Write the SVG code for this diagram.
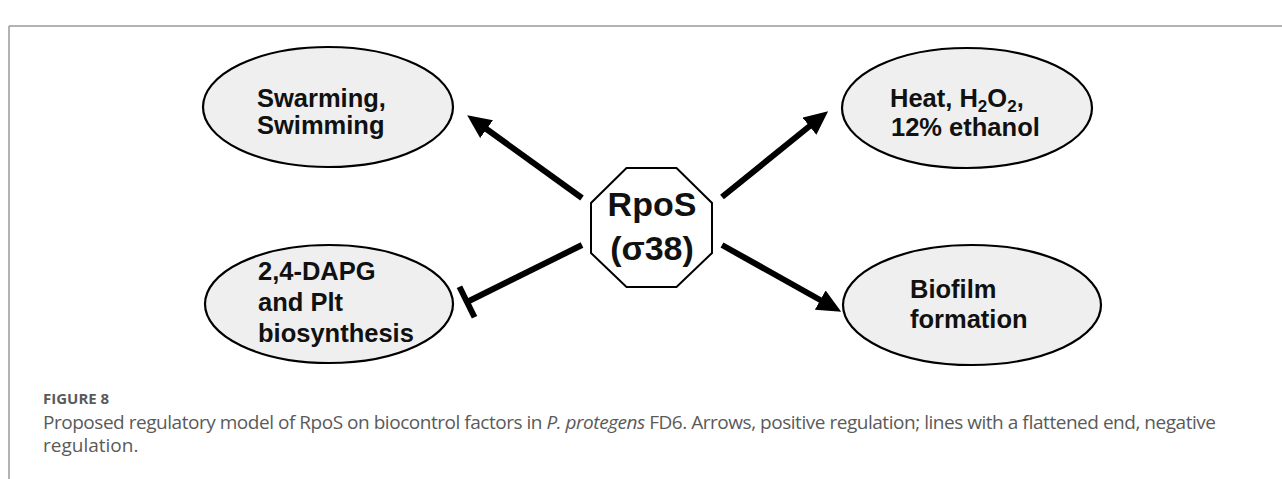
<svg xmlns="http://www.w3.org/2000/svg" width="1282" height="479" viewBox="0 0 1282 479">
<style>
.node{fill:#efefef;stroke:#000;stroke-width:2.2}
.lbl{font-family:"Liberation Sans",Arial,sans-serif;font-weight:bold;font-size:25.5px;fill:#111}
.big{font-family:"Liberation Sans",Arial,sans-serif;font-weight:bold;font-size:34px;fill:#111}
.con{stroke:#000;stroke-width:6;fill:none}
.cap{font-family:"Open Sans","Liberation Sans",sans-serif;fill:#5a5a5a}
</style>
<defs>
<marker id="arrow" viewBox="0 0 24 22" markerWidth="24" markerHeight="22" refX="2" refY="11" markerUnits="userSpaceOnUse" orient="auto">
<path d="M0,0 L24,11 L0,22 Z" fill="#000"/>
</marker>
<marker id="tee" viewBox="-4 -20 8 40" markerWidth="8" markerHeight="40" refX="0" refY="0" markerUnits="userSpaceOnUse" orient="auto">
<path d="M0,-17 V17" stroke="#000" stroke-width="6"/>
</marker>
</defs>
<g id="frame">
<path d="M9,26 H1282 M9,26 V479" stroke="#9a9a9a" stroke-width="1.5" fill="none"/>
</g>
<g id="connectors">
<line class="con" x1="582" y1="198" x2="485" y2="128" marker-end="url(#arrow)"/>
<line class="con" x1="722" y1="197" x2="811" y2="125" marker-end="url(#arrow)"/>
<line class="con" x1="722" y1="245" x2="822" y2="301" marker-end="url(#arrow)"/>
<line class="con" x1="582" y1="245" x2="467" y2="302" marker-end="url(#tee)"/>
</g>
<g id="rpos">
<polygon points="626.5,168 676.5,168 712,203 712,253 676.5,287 626.5,287 591,253 591,203" fill="#fff" stroke="#000" stroke-width="2"/>
<text class="big" x="652" y="216" text-anchor="middle">RpoS</text>
<text class="big" x="652" y="260" text-anchor="middle">(σ38)</text>
</g>
<g id="swarming">
<ellipse class="node" cx="328" cy="107" rx="125" ry="60"/>
<text class="lbl" x="257" y="107">Swarming,</text>
<text class="lbl" x="257" y="134">Swimming</text>
</g>
<g id="heat">
<ellipse class="node" cx="967" cy="108" rx="125" ry="60"/>
<text class="lbl" x="890" y="107">Heat, H<tspan font-size="17" dy="5">2</tspan><tspan dy="-5">O</tspan><tspan font-size="17" dy="5">2</tspan><tspan dy="-5">,</tspan></text>
<text class="lbl" x="891" y="136">12% ethanol</text>
</g>
<g id="dapg">
<ellipse class="node" cx="329" cy="304" rx="124" ry="59"/>
<text class="lbl" x="258" y="280">2,4-DAPG</text>
<text class="lbl" x="258" y="311">and Plt</text>
<text class="lbl" x="258" y="342">biosynthesis</text>
</g>
<g id="biofilm">
<ellipse class="node" cx="972" cy="305" rx="129" ry="60"/>
<text class="lbl" x="910" y="298">Biofilm</text>
<text class="lbl" x="910" y="328">formation</text>
</g>
<g id="caption">
<text class="cap" x="43" y="404" font-size="15" font-weight="bold" fill="#666">FIGURE 8</text>
<text class="cap" x="43" y="429" font-size="19" textLength="1173" lengthAdjust="spacing">Proposed regulatory model of RpoS on biocontrol factors in <tspan font-style="italic">P. protegens</tspan> FD6. Arrows, positive regulation; lines with a flattened end, negative</text>
<text class="cap" x="43" y="452" font-size="19">regulation.</text>
</g>
</svg>
